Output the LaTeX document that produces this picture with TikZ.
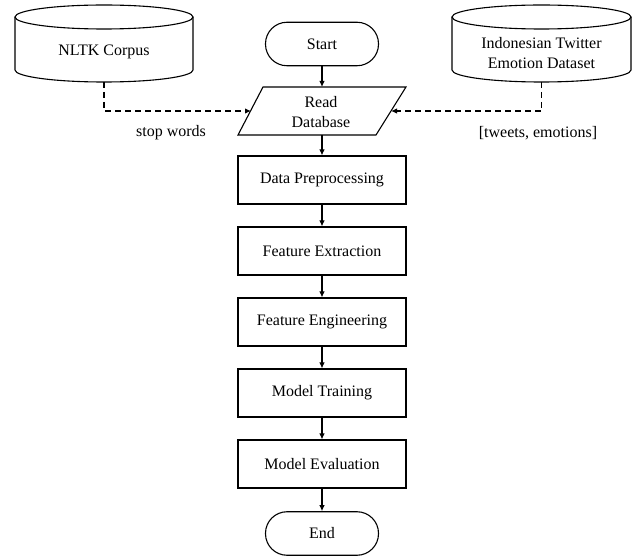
\documentclass[tikz,border=0pt]{standalone}
\usepackage{fontspec}
\setmainfont{Liberation Serif}
\usetikzlibrary{arrows.meta}
\begin{document}
\begin{tikzpicture}[x=1pt,y=-1pt,
  every node/.style={font=\fontsize{16}{20}\selectfont, inner sep=0pt},
  ln/.style={line width=1.1pt},
  proc/.style={draw, ln, minimum width=168pt, minimum height=48pt},
  term/.style={draw, ln, rounded corners=21.5pt, minimum width=113pt, minimum height=43.5pt},
  flow/.style={ln, -{Latex[length=6pt,width=5.5pt]}},
  dflow/.style={flow, dash pattern=on 6pt off 4pt}]
\useasboundingbox (0,0) rectangle (633,556);

% cylinders
\draw[ln] (15,17) -- (15,70) arc[start angle=180, end angle=360, x radius=89pt, y radius=12pt] -- (193,17);
\draw[ln] (104,17) ellipse [x radius=89pt, y radius=12pt];
\node (nltk) at (104,52) {NLTK Corpus};
\coordinate (nltkb) at (104,82);

\draw[ln] (452,17) -- (452,70) arc[start angle=180, end angle=360, x radius=89.5pt, y radius=12pt] -- (631,17);
\draw[ln] (541.5,17) ellipse [x radius=89.5pt, y radius=12pt];
\node[align=center] (itd) at (541.5,53) {Indonesian Twitter\\Emotion Dataset};
\coordinate (itdb) at (541.5,82);

% terminals and processes
\node[term] (start) at (322,44) {Start};
\draw[ln] (263,87) -- (406,87) -- (376,135) -- (238,135) -- cycle;
\node[align=center] (read) at (321,112) {Read\\Database};
\coordinate (rtop) at (322,87);
\coordinate (rbot) at (322,135);
\coordinate (rleft) at (251,111);
\coordinate (rright) at (391,111);

\node[proc] (b1) at (322,180) {Data Preprocessing};
\node[proc] (b2) at (322,251) {Feature Extraction};
\node[proc] (b3) at (322,322) {Feature Engineering};
\node[proc] (b4) at (322,393) {Model Training};
\node[proc] (b5) at (322,464) {Model Evaluation};
\node[term] (end) at (322,533.5) {End};

\draw[flow] (start) -- (rtop);
\draw[flow] (rbot) -- (b1);
\draw[flow] (b1) -- (b2);
\draw[flow] (b2) -- (b3);
\draw[flow] (b3) -- (b4);
\draw[flow] (b4) -- (b5);
\draw[flow] (b5) -- (end);

\draw[dflow] (nltkb) |- (rleft);
\draw[dflow] (itdb) |- (rright);

\node (sw) at (171,133) {stop words};
\node (te) at (538,133) {[tweets, emotions]};
\end{tikzpicture}
\end{document}
